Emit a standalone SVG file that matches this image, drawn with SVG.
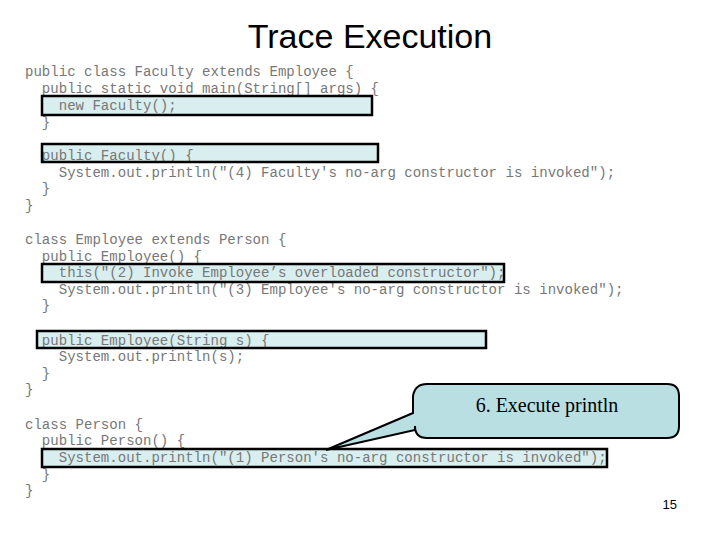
<svg xmlns="http://www.w3.org/2000/svg" width="720" height="540" viewBox="0 0 720 540">
<style>
.c{font-family:"Liberation Mono",monospace;font-size:14.05px;fill:#777;white-space:pre}
.hb{fill:#d9eeef;stroke:none}
.hs{fill:none;stroke:#000;stroke-width:2.5}
</style>
<rect width="720" height="540" fill="#fff"/>
<text x="370" y="48" text-anchor="middle" font-family="Liberation Sans,Arial,sans-serif" font-size="34" fill="#000">Trace Execution</text>
<g id="highlights-fill">
<rect class="hb" x="42" y="96" width="330" height="19"/>
<rect class="hb" x="42" y="144" width="336" height="18"/>
<rect class="hb" x="42" y="264" width="462" height="18"/>
<rect class="hb" x="37" y="331" width="449" height="17"/>
<rect class="hb" x="42" y="449" width="565" height="18"/>
</g>
<g id="code">
<text class="c" x="25" y="76">public class Faculty extends Employee {</text>
<text class="c" x="25" y="93">  public static void main(String[] args) {</text>
<text class="c" x="25" y="110">    new Faculty();</text>
<text class="c" x="25" y="127">  }</text>
<text class="c" x="25" y="160">  public Faculty() {</text>
<text class="c" x="25" y="177">    System.out.println("(4) Faculty's no-arg constructor is invoked");</text>
<text class="c" x="25" y="193">  }</text>
<text class="c" x="25" y="210">}</text>
<text class="c" x="25" y="244">class Employee extends Person {</text>
<text class="c" x="25" y="261">  public Employee() {</text>
<text class="c" x="25" y="277">    this("(2) Invoke Employee’s overloaded constructor");</text>
<text class="c" x="25" y="294">    System.out.println("(3) Employee's no-arg constructor is invoked");</text>
<text class="c" x="25" y="310">  }</text>
<text class="c" x="25" y="345">  public Employee(String s) {</text>
<text class="c" x="25" y="361">    System.out.println(s);</text>
<text class="c" x="25" y="378">  }</text>
<text class="c" x="25" y="394">}</text>
<text class="c" x="25" y="429">class Person {</text>
<text class="c" x="25" y="445">  public Person() {</text>
<text class="c" x="25" y="462">    System.out.println("(1) Person's no-arg constructor is invoked");</text>
<text class="c" x="25" y="479">  }</text>
<text class="c" x="25" y="495">}</text>
</g>
<g id="highlights">
<rect class="hs" x="42" y="96" width="330" height="19"/>
<rect class="hs" x="42" y="144" width="336" height="18"/>
<rect class="hs" x="42" y="264" width="462" height="18"/>
<rect class="hs" x="37" y="331" width="449" height="17"/>
<rect class="hs" x="42" y="449" width="565" height="18"/>
</g>
<g id="callout">
<path d="M427,384 H667 Q679,384 679,396 V426 Q679,438 667,438 H427 Q415,438 415,426 V430 L326,450 L413,413 V396 Q415,384 427,384 Z" fill="#b9dfe3" stroke="#000" stroke-width="2"/>
<text x="547" y="412" text-anchor="middle" font-family="Liberation Serif,Times New Roman,serif" font-size="20" fill="#000">6. Execute println</text>
</g>
<text x="677" y="509" text-anchor="end" font-family="Liberation Sans,Arial,sans-serif" font-size="13" fill="#000">15</text>
</svg>
